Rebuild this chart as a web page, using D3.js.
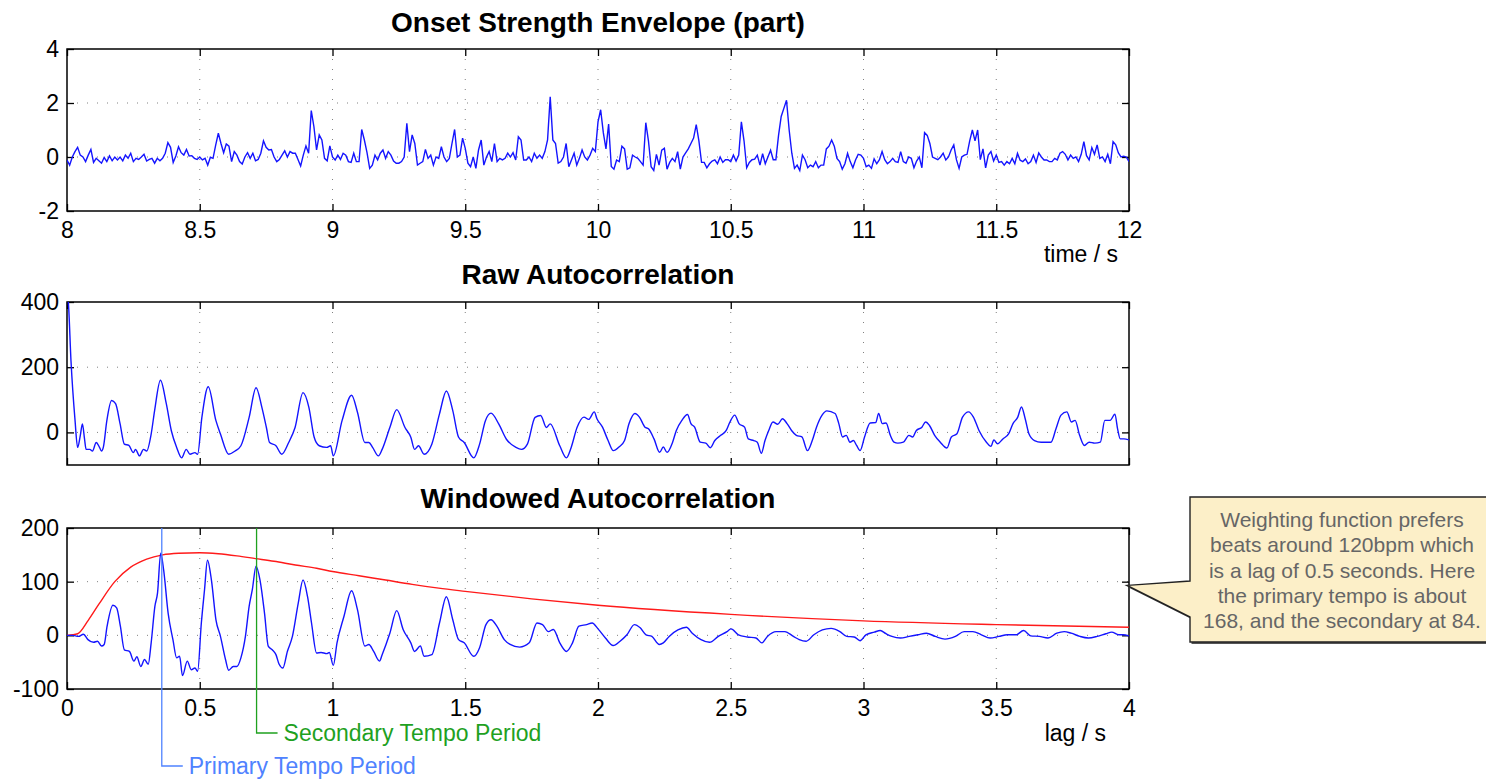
<!DOCTYPE html>
<html>
<head>
<meta charset="utf-8">
<script src="https://cdn.jsdelivr.net/npm/d3@7"></script>
<style>
  body { margin: 0; background: #fff; }
  svg { display: block; font-family: "Liberation Sans", Arial, Helvetica, sans-serif; }
  .grid { stroke: #808080; stroke-width: 1; stroke-dasharray: 1 9; }
</style>
</head>
<body>
<svg id="chart" width="1486" height="779"></svg>
<script>
// onset strength envelope, 8.00 .. 12.00 s in 0.01 s steps
const onsetStart = 8;
const onsetStep = 0.01;
const onsetValues = [
  -0.11,-0.3,0.0,0.2,0.36,0.07,0.0,-0.17,0.07,0.28,
  -0.2,-0.05,-0.14,-0.23,-0.02,-0.17,0.04,-0.14,0.0,-0.11,
  0.0,-0.14,0.07,-0.05,0.14,-0.17,-0.05,-0.09,0.0,0.1,
  -0.15,-0.09,-0.05,-0.23,-0.05,-0.14,-0.05,0.14,0.53,0.36,
  -0.2,0.04,0.38,0.16,0.07,0.28,0.04,0.05,-0.05,-0.09,
  0.0,-0.11,-0.05,-0.3,-0.01,-0.05,0.44,0.88,0.5,0.16,
  0.48,0.4,-0.17,0.2,0.07,-0.17,-0.26,0.0,0.16,-0.05,
  0.14,-0.14,-0.09,0.14,0.6,0.36,0.26,0.28,0.0,-0.17,
  -0.09,0.07,0.23,0.0,0.2,0.14,0.14,-0.09,-0.33,0.07,
  0.41,0.14,1.72,1.12,0.26,0.82,0.63,-0.05,-0.14,0.41,
  // 9.00
  0.0,-0.11,0.07,-0.09,0.14,0.07,-0.17,-0.2,0.14,-0.17,
  -0.17,1.02,0.63,0.16,-0.42,-0.3,0.07,-0.11,0.14,0.26,
  -0.05,0.2,0.07,-0.15,-0.23,-0.23,-0.17,0.0,1.25,0.2,
  0.82,0.5,-0.3,-0.23,-0.17,0.28,-0.05,0.07,-0.3,0.0,
  -0.05,0.38,0.0,-0.17,-0.05,0.5,1.02,0.0,0.07,0.7,
  0.32,-0.23,-0.36,0.0,-0.42,0.26,0.63,-0.3,0.0,0.2,
  -0.17,0.5,-0.17,-0.05,-0.11,-0.05,0.14,0.0,0.16,-0.11,
  0.75,0.63,-0.11,-0.11,0.0,-0.17,0.14,-0.05,0.07,-0.05,
  0.2,0.63,2.23,0.63,0.5,-0.23,-0.17,0.0,0.5,-0.36,
  -0.11,0.14,-0.3,-0.05,0.26,0.0,-0.11,0.07,0.32,0.2,
  // 10.00
  1.3,1.75,0.9,0.3,1.22,-0.35,-0.45,-0.11,-0.17,0.4,
  0.3,-0.45,-0.4,0.07,0.0,-0.05,-0.17,-0.3,1.27,0.6,
  -0.36,-0.5,0.1,-0.3,0.25,0.32,-0.45,-0.2,-0.05,-0.17,
  0.2,-0.45,0.0,0.15,0.3,0.5,0.7,1.2,0.6,-0.2,
  -0.2,-0.4,-0.25,-0.15,-0.11,-0.25,0.0,-0.2,-0.1,-0.1,
  -0.17,0.07,-0.15,0.07,1.3,0.6,-0.4,-0.2,-0.1,-0.08,
  0.07,-0.3,0.12,-0.25,0.0,0.25,-0.1,-0.1,0.8,1.5,
  1.8,2.1,1.0,0.14,-0.42,-0.3,-0.5,0.07,-0.1,-0.4,
  -0.3,-0.36,-0.17,-0.4,-0.3,-0.3,0.3,0.4,0.63,0.4,
  -0.05,-0.17,-0.45,-0.25,0.14,-0.17,-0.4,-0.11,0.1,0.07,
  // 11.00
  -0.05,-0.36,-0.3,-0.42,-0.07,-0.25,-0.1,0.2,-0.1,-0.25,
  -0.17,-0.05,-0.17,-0.2,0.2,-0.17,-0.23,0.0,-0.05,-0.4,
  -0.15,0.0,-0.4,0.9,0.8,0.5,0.0,-0.05,-0.1,0.0,
  0.14,-0.11,0.0,0.26,0.45,-0.1,-0.42,0.0,0.07,0.1,
  0.6,1.0,0.6,1.0,-0.1,0.3,-0.4,0.07,0.2,-0.15,
  0.07,-0.2,-0.17,-0.3,-0.17,-0.25,-0.05,-0.25,0.14,-0.12,
  -0.17,-0.07,-0.25,-0.17,0.07,-0.2,0.15,0.0,-0.11,-0.11,
  -0.17,-0.17,-0.05,-0.11,0.14,0.2,0.1,-0.11,0.07,-0.05,
  0.0,-0.17,0.1,0.57,0.05,-0.11,0.35,0.1,0.45,-0.05,
  0.0,-0.17,0.1,-0.25,0.57,0.45,0.15,0.0,0.03,0.0,
  -0.17
];

// [lag in s, value]
const rawAcf = [
  [0,430],[0.005,400],[0.015,220],[0.03,40],[0.04,-46],[0.05,-10],[0.058,26],[0.066,-20],[0.072,-52],[0.086,-52],
  [0.096,-57],[0.11,-31],[0.122,-45],[0.13,-57],[0.137,-45],[0.15,36],[0.168,98],[0.183,88],[0.2,26],[0.216,-36],
  [0.233,-40],[0.25,-62],[0.258,-52],[0.273,-72],[0.288,-52],[0.3,-57],[0.317,-5],[0.33,67],[0.352,160],[0.374,88],
  [0.393,5],[0.413,-46],[0.432,-78],[0.449,-52],[0.463,-67],[0.482,-62],[0.492,-67],[0.508,46],[0.532,140],[0.561,36],
  [0.578,-5],[0.609,-67],[0.633,-57],[0.655,-41],[0.686,46],[0.712,137],[0.734,77],[0.751,15],[0.763,-31],[0.787,-41],
  [0.809,-67],[0.835,-31],[0.859,15],[0.889,122],[0.911,77],[0.931,-15],[0.95,-41],[0.978,-46],[0.993,-41],[1.003,-72],
  [1.036,36],[1.072,114],[1.094,62],[1.122,-31],[1.137,-31],[1.151,-46],[1.173,-72],[1.187,-52],[1.216,15],[1.242,70],
  [1.273,15],[1.295,-15],[1.309,-52],[1.324,-41],[1.345,-67],[1.374,-36],[1.403,57],[1.429,127],[1.453,67],[1.475,-15],
  [1.496,-31],[1.532,-78],[1.554,-36],[1.576,36],[1.597,59],[1.626,26],[1.655,-21],[1.691,-46],[1.712,-52],[1.734,-36],
  [1.763,46],[1.784,52],[1.806,15],[1.82,26],[1.856,-41],[1.881,-78],[1.899,-46],[1.921,15],[1.947,47],[1.965,40],
  [1.986,63],[1.996,42],[2.017,16],[2.038,-25],[2.058,-56],[2.079,-45],[2.1,-25],[2.117,27],[2.139,58],[2.156,47],
  [2.177,16],[2.19,11],[2.211,-20],[2.232,-61],[2.246,-45],[2.26,-61],[2.281,-30],[2.295,6],[2.316,37],[2.337,55],
  [2.35,27],[2.364,16],[2.385,-30],[2.406,-33],[2.423,-47],[2.44,-25],[2.462,-9],[2.483,6],[2.497,32],[2.515,53],
  [2.531,27],[2.552,16],[2.566,-20],[2.587,-25],[2.6,-30],[2.615,-64],[2.629,-25],[2.643,6],[2.659,32],[2.677,25],
  [2.695,42],[2.712,27],[2.729,6],[2.747,-9],[2.768,-14],[2.789,-56],[2.807,-25],[2.823,16],[2.844,53],[2.862,66],
  [2.893,58],[2.907,27],[2.921,-14],[2.935,-9],[2.949,-30],[2.962,-25],[2.974,-40],[2.987,-56],[3.004,-14],[3.025,29],
  [3.046,30],[3.057,58],[3.071,27],[3.085,29],[3.101,-9],[3.115,-30],[3.129,-33],[3.15,-30],[3.171,-9],[3.185,-14],
  [3.199,6],[3.22,16],[3.234,32],[3.248,22],[3.268,-9],[3.289,-30],[3.314,-48],[3.331,-14],[3.352,-4],[3.373,47],
  [3.396,63],[3.414,47],[3.435,6],[3.463,-30],[3.48,-43],[3.491,-23],[3.505,-35],[3.525,-20],[3.547,-4],[3.563,27],
  [3.581,47],[3.595,78],[3.609,42],[3.623,-4],[3.644,-25],[3.669,-30],[3.689,-30],[3.706,-30],[3.725,11],[3.744,53],
  [3.766,63],[3.783,32],[3.797,37],[3.814,-9],[3.832,-40],[3.85,-30],[3.871,-33],[3.892,-30],[3.909,37],[3.929,37],
  [3.947,56],[3.957,11],[3.967,-20],[3.981,-20],[4.0,-23]
];

const windowedAcf = [
  [0,0],[0.022,0],[0.043,-2],[0.062,2],[0.079,-8],[0.1,-13],[0.115,-11],[0.13,-20],[0.14,-17],[0.151,17],
  [0.173,56],[0.187,51],[0.201,17],[0.216,-27],[0.235,-30],[0.252,-48],[0.263,-40],[0.278,-58],[0.292,-45],[0.306,-54],
  [0.317,-14],[0.331,54],[0.341,79],[0.353,153],[0.364,122],[0.381,41],[0.399,-8],[0.413,-42],[0.424,-39],[0.435,-75],
  [0.453,-48],[0.468,-64],[0.482,-61],[0.492,-67],[0.506,23],[0.518,85],[0.529,140],[0.544,103],[0.561,29],[0.578,-2],
  [0.597,-45],[0.609,-65],[0.626,-58],[0.64,-58],[0.655,-42],[0.672,-2],[0.686,54],[0.698,85],[0.712,129],[0.727,103],
  [0.744,41],[0.758,-20],[0.773,-27],[0.787,-36],[0.799,-54],[0.813,-61],[0.83,-30],[0.849,-2],[0.871,60],[0.889,103],
  [0.906,72],[0.921,23],[0.94,-33],[0.957,-32],[0.978,-34],[0.988,-32],[1.003,-56],[1.017,-14],[1.043,35],[1.072,83],
  [1.094,48],[1.122,-20],[1.137,-17],[1.155,-30],[1.177,-48],[1.187,-36],[1.216,4],[1.242,46],[1.266,11],[1.295,-14],
  [1.309,-30],[1.331,-20],[1.345,-39],[1.374,-36],[1.403,23],[1.429,72],[1.453,29],[1.475,-8],[1.496,-14],[1.532,-39],
  [1.554,-23],[1.578,20],[1.597,29],[1.619,17],[1.647,-8],[1.669,-17],[1.705,-22],[1.741,-14],[1.77,23],[1.791,20],
  [1.813,7],[1.832,11],[1.856,-14],[1.881,-30],[1.904,-14],[1.928,17],[1.957,20],[1.978,23],[2.0,12],[2.028,-5],
  [2.057,-19],[2.083,-11],[2.109,1],[2.137,20],[2.159,14],[2.181,1],[2.203,-2],[2.231,-17],[2.246,-14],[2.268,-2],
  [2.301,10],[2.333,15],[2.355,4],[2.388,-8],[2.42,-13],[2.453,-2],[2.486,7],[2.501,12],[2.529,1],[2.562,-3],
  [2.595,-5],[2.617,-14],[2.638,-2],[2.671,7],[2.704,7],[2.736,-2],[2.758,-8],[2.784,-11],[2.813,1],[2.845,10],
  [2.878,13],[2.911,7],[2.937,-2],[2.965,-3],[2.987,-10],[3.009,1],[3.041,6],[3.063,9],[3.085,3],[3.107,-2],
  [3.139,-5],[3.172,-2],[3.205,1],[3.237,4],[3.27,-2],[3.307,-7],[3.346,-2],[3.379,7],[3.412,7],[3.444,1],
  [3.477,-5],[3.51,-2],[3.542,1],[3.575,1],[3.603,9],[3.63,-1],[3.662,-2],[3.695,-5],[3.728,4],[3.756,7],
  [3.782,4],[3.815,-2],[3.847,-5],[3.88,-2],[3.913,3],[3.935,6],[3.961,1],[3.978,1],[4.0,-1]
];

// tempo weighting window (red)
const weighting = [
  [0,0],[0.04,3],[0.08,28],[0.12,58],[0.18,100],[0.24,127],[0.3,142],[0.36,150],[0.42,153],[0.5,154],
  [0.57,152],[0.64,148],[0.71,143],[0.78,138],[0.86,131],[0.94,125],[1.0,119],[1.1,111],[1.2,103],[1.3,95],
  [1.4,88],[1.5,82],[1.75,68],[2.0,56],[2.5,39],[3.0,27],[3.5,20],[4.0,15]
];

const timeTicks = [8, 8.5, 9, 9.5, 10, 10.5, 11, 11.5, 12];
const lagTicks = [0, 0.5, 1, 1.5, 2, 2.5, 3, 3.5, 4];
const onsetYTicks = [-2, 0, 2, 4];
const rawYTicks = [0, 200, 400];
const winYTicks = [-100, 0, 100, 200];

const primaryLag = 0.357;   // 168 bpm
const secondaryLag = 0.714; // 84 bpm
const noteLines = [
  "Weighting function prefers",
  "beats around 120bpm which",
  "is a lag of 0.5 seconds. Here",
  "the primary tempo is about",
  "168, and the secondary at 84."
];

const svg = d3.select("#chart");
const left = 67, right = 1129;
const fmt = d => String(d);

function panel(id, top, bottom, xDomain, yDomain, xTicks, yTicks, labels) {
  const x = d3.scaleLinear().domain(xDomain).range([left, right]);
  const y = d3.scaleLinear().domain(yDomain).range([bottom, top]);
  const g = svg.append("g");
  const inside = (v, dom) => v > dom[0] && v < dom[1];

  svg.append("clipPath").attr("id", id)
    .append("rect").attr("x", left).attr("y", top)
    .attr("width", right - left).attr("height", bottom - top);

  g.append("g").selectAll("line").data(xTicks.filter(d => inside(d, xDomain))).join("line")
    .attr("class", "grid")
    .attr("x1", d => x(d)).attr("x2", d => x(d))
    .attr("y1", top).attr("y2", bottom);
  g.append("g").selectAll("line").data(yTicks.filter(d => inside(d, yDomain))).join("line")
    .attr("class", "grid")
    .attr("x1", left).attr("x2", right)
    .attr("y1", d => y(d)).attr("y2", d => y(d));

  const style = a => a.call(s => s.select(".domain").remove())
    .attr("font-size", 23).attr("font-family", null)
    .call(s => s.selectAll("line").attr("stroke-width", 1.3));

  g.append("g").attr("transform", `translate(0,${bottom})`)
    .call(d3.axisBottom(x).tickValues(xTicks).tickSizeInner(-7).tickSizeOuter(0)
      .tickPadding(11).tickFormat(labels ? fmt : () => ""))
    .call(style);
  g.append("g").attr("transform", `translate(0,${top})`)
    .call(d3.axisTop(x).tickValues(xTicks).tickSizeInner(-7).tickSizeOuter(0).tickFormat(() => ""))
    .call(style);
  g.append("g").attr("transform", `translate(${left},0)`)
    .call(d3.axisLeft(y).tickValues(yTicks).tickSizeInner(-7).tickSizeOuter(0)
      .tickPadding(8).tickFormat(fmt))
    .call(style);
  g.append("g").attr("transform", `translate(${right},0)`)
    .call(d3.axisRight(y).tickValues(yTicks).tickSizeInner(-7).tickSizeOuter(0).tickFormat(() => ""))
    .call(style);

  g.append("rect")
    .attr("x", left).attr("y", top)
    .attr("width", right - left).attr("height", bottom - top)
    .attr("fill", "none").attr("stroke", "#000").attr("stroke-width", 1.5);

  return { x, y, g };
}

function title(text, yPos) {
  svg.append("text").attr("x", 598).attr("y", yPos)
    .attr("text-anchor", "middle").attr("font-size", 28).attr("font-weight", "bold")
    .text(text);
}

// Onset strength envelope
title("Onset Strength Envelope (part)", 32);
const p1 = panel("clip1", 49, 211, [8, 12], [-2, 4], timeTicks, onsetYTicks, true);
p1.g.append("path")
  .datum(onsetValues)
  .attr("clip-path", "url(#clip1)")
  .attr("fill", "none").attr("stroke", "#1414ff").attr("stroke-width", 1.4)
  .attr("d", d3.line().x((d, i) => p1.x(onsetStart + i * onsetStep)).y(d => p1.y(d)));
svg.append("text").attr("x", 1118).attr("y", 262).attr("text-anchor", "end")
  .attr("font-size", 23).text("time / s");

// Raw autocorrelation
title("Raw Autocorrelation", 284);
const p2 = panel("clip2", 302, 465, [0, 4], [-100, 400], lagTicks, rawYTicks, false);
p2.g.append("path")
  .datum(rawAcf)
  .attr("clip-path", "url(#clip2)")
  .attr("fill", "none").attr("stroke", "#1414ff").attr("stroke-width", 1.4)
  .attr("d", d3.line().curve(d3.curveMonotoneX).x(d => p2.x(d[0])).y(d => p2.y(d[1])));

// Windowed autocorrelation
title("Windowed Autocorrelation", 508);
const p3 = panel("clip3", 528, 689, [0, 4], [-100, 200], lagTicks, winYTicks, true);
p3.g.append("path")
  .datum(weighting)
  .attr("clip-path", "url(#clip3)")
  .attr("fill", "none").attr("stroke", "#ff1a1a").attr("stroke-width", 1.4)
  .attr("d", d3.line().curve(d3.curveMonotoneX).x(d => p3.x(d[0])).y(d => p3.y(d[1])));
p3.g.append("path")
  .datum(windowedAcf)
  .attr("clip-path", "url(#clip3)")
  .attr("fill", "none").attr("stroke", "#1414ff").attr("stroke-width", 1.4)
  .attr("d", d3.line().curve(d3.curveMonotoneX).x(d => p3.x(d[0])).y(d => p3.y(d[1])));
svg.append("text").attr("x", 1106).attr("y", 741).attr("text-anchor", "end")
  .attr("font-size", 23).text("lag / s");

// tempo period markers
const markers = [
  { lag: primaryLag, end: 766, label: "Primary Tempo Period", color: "#4f82ff" },
  { lag: secondaryLag, end: 733, label: "Secondary Tempo Period", color: "#1fa11f" }
];
markers.forEach(m => {
  const mx = p3.x(m.lag);
  svg.append("path")
    .attr("d", `M${mx},528V${m.end}H${mx + 21}`)
    .attr("fill", "none").attr("stroke", m.color).attr("stroke-width", 1.3);
  svg.append("text").attr("x", mx + 27).attr("y", m.end + 8)
    .attr("font-size", 23).attr("fill", m.color).text(m.label);
});

// callout
const tip = [p3.x(4) - 2, p3.y(93)];
const box = { x0: 1190, x1: 1492, y0: 497, y1: 642 };
const calloutPath = `M${box.x0},${box.y0}H${box.x1}V${box.y1}H${box.x0}V617L${tip[0]},${tip[1]}L${box.x0},581Z`;
svg.append("path").attr("d", calloutPath)
  .attr("transform", "translate(1.5,2)")
  .attr("fill", "#555");
svg.append("path").attr("d", calloutPath)
  .attr("fill", "#fcefc8").attr("stroke", "#222").attr("stroke-width", 1.4);
svg.append("g").selectAll("text").data(noteLines).join("text")
  .attr("x", 1342).attr("y", (d, i) => 527 + i * 25.3)
  .attr("text-anchor", "middle").attr("font-size", 21).attr("fill", "#666")
  .text(d => d);
</script>
</body>
</html>
